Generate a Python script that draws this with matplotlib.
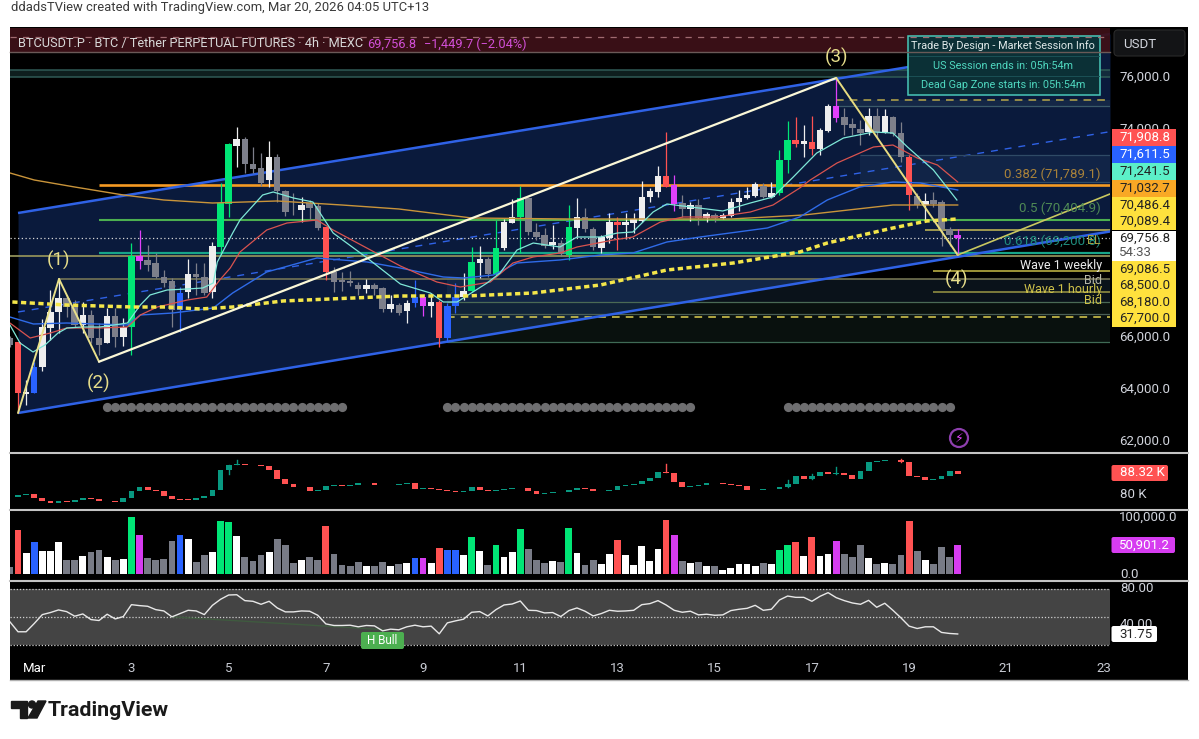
import matplotlib
matplotlib.use("Agg")
import matplotlib.pyplot as plt
import numpy as np
from matplotlib.lines import Line2D
from matplotlib.patches import Rectangle, Circle, Polygon, FancyBboxPatch
from matplotlib.transforms import Affine2D

plt.rcParams['font.family'] = ['Roboto', 'DejaVu Sans']

# ---------- data ----------
bar_tone = ("k" "rwbwwwkkwk" "kwkwgmkkkk" "bwkkwggwkk" "kwkkkwkkrk" "kkkwkkwkwb"
            "mwrbbwgwkg" "wwgkkkwkgw" "kkwwrwwwww" "rmkwkwkwww" "wwkwggrwrw"
            "wmkkkwkwkk" "rkwkkkm")

price_open = [65910,
 65760,63757,63796,64796,66298,66914,67453,67106,66414,66799,
 65913,65720,66760,65951,66336,69070,68916,68800,68261,68107,
 66991,67684,68377,68261,67684,69416,71072,73305,73575,72612,
 72458,71996,72881,71572,70725,70841,71110,70995,70187,68454,
 68146,68107,67954,67800,67954,67838,67030,67183,66953,67260,
 67491,67145,67300,65913,67145,67491,67722,68800,68955,68377,
 69378,70340,70572,71303,69994,69878,69493,69570,69108,70148,
 70572,70110,69378,69763,70379,70264,70340,70418,71342,71534,
 72150,71803,71110,70880,71033,70533,70648,70533,70610,71149,
 71303,71380,71765,71342,71496,72766,73536,73382,73459,73190,
 73882,74845,74421,74152,73960,73844,74460,73844,74421,73805,
 72881,71380,71033,71226,71149,70110,69878]
price_close = [65640,
 63795,63834,64796,66336,66914,67453,67106,66414,66799,65913,
 65644,66760,65951,66336,69070,68878,68723,68261,68030,66991,
 67646,68377,68261,67646,69455,71110,73382,73575,72612,72420,
 71880,72881,71572,70764,70725,71033,70918,70148,68454,68069,
 68069,68030,67800,67954,67800,67030,67222,66875,67260,67491,
 67145,67300,65913,67145,67491,67722,68840,68955,68377,69378,
 70379,70572,71303,69994,69800,69455,69609,69147,70187,70572,
 70110,69416,69801,70379,70264,70379,70495,71342,71572,72150,
 71726,71072,70880,71033,70533,70687,70533,70648,71149,71303,
 71419,71842,71342,71496,72766,73536,73382,73497,73190,73921,
 74845,74383,74113,73998,73805,74460,73844,74460,73767,72881,
 71419,71033,71188,71072,70110,69878,69757]
price_high = [65990,
 65760,64296,64989,66645,67761,68184,67569,67376,67299,66991,
 66490,67068,67068,66683,69570,70071,69493,69185,68531,68223,
 67876,68955,68800,68800,69609,71880,73420,74036,73652,73266,
 73035,73497,72997,71611,71496,71342,71226,71110,70187,68646,
 68454,68493,68069,68184,68030,67876,67569,67260,67376,68146,
 67569,67646,67376,67260,68030,68415,69416,69455,69032,70456,
 70495,71265,71765,71342,70340,70148,70264,69686,71033,71303,
 70918,70187,69878,70725,70572,70725,70725,71957,71688,72535,
 73844,72188,71419,71149,71264,70764,70725,70725,71303,71611,
 71726,71919,71880,71919,73151,74268,74420,74113,74460,73998,
 74922,75961,74768,74383,74306,74768,74768,74730,74460,74229,
 72958,71496,71496,71534,71226,70187,70110]
price_low = [65565,
 63025,63333,63796,64643,65836,66106,66722,66336,66106,65720,
 65259,65720,65567,65605,65259,68570,68493,68223,67876,66336,
 66144,67453,67569,67569,67453,69108,70572,72496,72266,72266,
 71765,71726,71149,70610,70648,70379,70456,70071,68146,67684,
 67723,67915,67569,67645,67569,66914,66914,66800,66490,67106,
 66760,66722,65567,65760,66875,67376,67684,68223,68261,68340,
 69301,70340,69185,69878,69686,69378,69340,69070,68916,69801,
 69994,69301,69185,69570,69301,69725,69955,70379,71149,71342,
 71726,70803,70572,70418,70263,70379,70379,70495,70572,70803,
 71265,71342,71303,71303,71419,72266,73266,72881,72958,72958,
 73844,74229,73728,73728,73343,73728,73613,73805,73690,72689,
 70841,70918,70456,70957,69455,69455,69108]

volume = [12100,
 76300,36400,55500,39900,39900,56600,24900,25400,31800,39300,
 42200,30600,24900,26600,98800,68200,28300,24900,26000,57200,
 67600,60700,21400,34100,39300,93100,91300,67000,29500,23700,
 33500,38700,61800,50300,19100,24300,29500,25400,83800,35300,
 16200,14500,20800,14500,14500,20800,14500,17900,19100,28300,
 27700,19700,46200,41600,42800,33500,64200,40500,16200,51400,
 29500,39300,78600,43900,24300,20200,23100,20800,80300,37600,
 16200,24900,17900,35300,59500,33500,16200,49100,23100,43900,
 94200,67600,22500,19100,21400,13300,13300,6900,11000,17900,
 17900,14500,20200,17900,42800,50300,55500,31800,64700,32400,
 34700,58400,35300,30100,51400,27700,16800,19100,17300,34100,
 93100,41000,24300,16800,46800,29500,50901]

oi_close = [79.37,
 80.25,80.63,78.99,77.73,77.22,77.98,77.60,78.36,78.99,78.86,
 77.85,77.73,77.60,78.99,81.52,83.16,82.27,81.77,79.75,78.61,
 78.48,78.36,78.99,79.87,82.02,89.72,91.36,91.74,91.49,91.36,
 91.24,89.60,86.31,84.17,83.28,83.03,81.64,82.15,83.66,83.79,
 83.66,83.91,84.80,84.55,84.04,83.91,83.79,84.17,84.67,82.53,
 82.65,82.53,82.27,81.64,81.39,81.52,83.16,82.15,81.52,82.27,
 82.53,82.90,82.78,81.64,80.38,80.88,81.26,81.39,82.15,82.78,
 82.53,81.64,81.89,82.02,83.41,83.79,84.29,85.56,86.44,88.71,
 88.59,85.30,83.16,83.41,83.79,84.67,84.55,84.42,84.04,83.66,
 82.02,82.15,82.53,82.40,83.28,84.17,87.45,86.19,87.45,88.96,
 88.21,88.59,87.95,86.31,89.09,92.63,93.13,93.26,93.38,92.63,
 87.20,87.07,85.68,86.19,87.20,89.22,88.32]
oi_wicks = [(26, 88.21, 91.36), (27, 91.74, 93.26), (80, 88.71, 91.74), (95, 83.28, 85.93),
            (98, 86.19, 88.21), (101, 88.21, 90.73), (109, 92.63, 93.89)]

rsi = [44.7,
 34.1,34.1,42.9,52.4,54.6,57.4,55.6,50.7,53.1,47.1,
 46.1,52.8,47.8,50.3,63.0,62.0,61.3,57.7,56.3,50.0,
 53.5,57.0,56.3,52.4,62.3,68.7,73.3,73.6,67.3,66.6,
 63.4,66.6,59.5,55.3,55.3,56.3,56.0,51.7,42.5,40.8,
 40.8,41.1,39.4,40.8,40.4,35.1,36.9,36.2,39.4,41.1,
 39.4,40.1,31.9,43.6,45.7,47.5,54.9,55.6,51.0,57.7,
 62.7,63.7,66.9,57.0,56.7,54.2,54.6,50.3,56.7,59.5,
 56.0,51.0,53.5,57.0,56.0,56.3,57.0,63.0,64.1,67.3,
 62.7,57.0,54.9,56.0,52.1,52.8,51.7,52.1,56.7,58.1,
 59.1,62.3,57.0,58.1,68.0,72.2,70.8,70.8,66.6,71.9,
 75.8,70.5,67.3,64.8,63.4,67.6,60.2,64.5,57.0,48.9,
 40.1,37.6,39.4,39.4,33.4,32.3,31.75]

ma_fast = [(-1,66414),(0.25,65720),(1.85,65374),(3.33,65644),(4.94,66106),(6.05,66298),(7.9,66336),
 (10.1,66336),(13.5,66490),(15.1,67183),(16.3,67569),(18.4,67761),(20.9,67800),(22.8,67838),(24.1,68030),
 (24.6,68839),(26.5,69955),(27.4,70456),(30.2,71419),(31.5,71534),(34,71303),(36.4,71149),(38.9,69955),
 (43.1,68993),(47.2,67992),(50.9,67646),(52.5,67299),(54.2,67299),(57.9,68030),(59.5,68415),(61.6,69301),
 (63.6,69570),(66.9,69416),(69,69801),(71.9,69801),(74,69955),(75.9,69994),(78.4,70764),(80.1,71072),
 (83,70957),(87,70803),(90.4,71110),(93.2,71342),(95.7,72111),(98.6,73035),(101.9,73613),(105.6,73844),
 (108,73805),(109.8,73266),(113,72381),(115.9,71226)]
ma_mid = [(-1,66490),(1.5,65913),(4,66106),(6,66298),(10.1,66298),(13.5,66336),(15.1,66799),(17.2,67106),
 (20.9,67376),(23.3,67491),(24.9,68146),(26.2,68608),(27.4,69224),(30.7,70071),(33.2,70340),(36.9,70456),
 (38.9,70071),(47.2,68685),(51.7,68069),(54.6,67876),(58.3,68069),(61.1,68800),(63.6,69032),(66.9,69185),
 (69,69416),(73.5,69686),(75.9,69801),(79.3,70379),(82.1,70572),(86.3,70572),(90.4,70764),(93.2,71033),
 (96.5,71688),(97.8,71996),(101.1,72650),(105.6,73266),(108,73343),(111,72843),(113.5,72573),(116,71919)]
ma_slow = [(-1,66722),(1.9,66452),(6,66490),(13.5,66414),(15.1,66799),(19.1,66875),(24.1,67068),(26.5,67646),
 (30.7,68454),(36.9,68993),(43.1,68839),(47.2,68608),(52.5,68261),(55,68223),(58.7,68339),(61.6,68800),
 (66.9,68916),(71.9,69108),(75.9,69185),(80.1,69609),(84.2,69801),(92.5,70148),(96.5,70572),(99.9,71226),
 (103.9,71726),(108,71919),(111.4,71880),(116,71611)]
ma_long = [(-1,72266),(2,71996),(7,71726),(13,71419),(18,71226),(24,71110),(32,71188),(40,71033),(47,70880),
 (56,70533),(68,70495),(88,70495),(97,70648),(108,71033),(116,71033)]
ma_dash = [(-0.7,67299),(6,67183),(14.2,67106),(18.4,67106),(22.5,67030),(26.5,67106),(32.7,67338),(47.2,67530),
 (55.4,67530),(63.6,67646),(71.9,67954),(80.1,68531),(88.3,68800),(96.5,69224),(99.9,69570),(108,70148),
 (112.2,70418),(116,70495)]

wave_points = [(0,63025),(5.06,68185),(10,65000),(101,75923),(116,69108),(134.8,71457)]
channel_lower = [(0,63025),(134.8,70013)]
channel_upper = [(0,70725),(134.8,77617)]
channel_mid = [(0,66914),(134.8,73856)]

levels = [  # price, first bar, colour, width, style
 (71789,10,'#f59a23',1.9,'-'), (70470,10,'#4caf50',1.5,'-'), (69200,10,'#17a589',1.6,'-'),
 (69082,-1,'#8f8f58',1.3,'-'), (68180,5.06,'#7d7d58',1.1,'-'), (68500,113,'#c8bc48',1.1,'-'),
 (67700,113,'#9a9645',1.1,'-'), (70082,112,'#c8bc55',1.1,'-'), (67300,53,'#4a6a55',0.9,'-'),
 (66835,53,'#4a5f55',0.9,'-'), (66720,53,'#e0d050',1.1,(0,(5,4))), (65770,53,'#3f6a55',0.9,'-'),
 (76212,-1,'#2f5a55',1.1,'-'), (75973,-1,'#2f5a55',1.1,'-'), (75076,101,'#b8a84a',1.1,(0,(5,4))),
 (74845,101,'#3b5a6a',0.9,'-'), (72958,104,'#2f4a66',0.9,'-'), (71919,104,'#2f4a66',0.9,'-'),
]
zones = [(67300,68180,53,'#2a4a6a',0.25),(65770,67300,53,'#1f3a30',0.3),(75973,76212,-1,'#1d3c3c',0.5),
         (74845,75076,101,'#1f3550',0.5),(71919,72958,104,'#2a4a70',0.22)]

session_dot_bars = [list(range(11,41)), list(range(53,84)), list(range(95,116))]
session_dot_price = 63256

day_labels = ["Mar","3","5","7","9","11","13","15","17","19","21","23"]
day_numbers = [1,3,5,7,9,11,13,15,17,19,21,23]
price_ticks = [76000,74000,66000,64000,62000]

stacked_labels = [("71,908.8",129,146,'#ff5252','#ffffff'),("71,611.5",146,163,'#2962ff','#ffffff'),
 ("71,241.5",163,180,'#5cf0c8','#222222'),("71,032.7",180,197,'#f9a825','#222222'),
 ("70,486.4",197,213,'#ffe13d','#222222'),("70,089.4",213,230,'#ffe13d','#222222'),
 ("69,086.5",261,277,'#ffe13d','#222222'),("68,500.0",277,294,'#ffe13d','#222222'),
 ("68,180.0",294,310,'#ffe13d','#222222'),("67,700.0",310,327,'#ffe13d','#222222')]

# ---------- layout ----------
W, H = 1199, 739
PX = Affine2D().scale(1, -1).translate(0, H)
fig = plt.figure(figsize=(W/100, H/100), dpi=100, facecolor='white')
def pane(x0, y0, x1, y1, **kw):
    a = fig.add_axes([x0/W, 1-y1/H, (x1-x0)/W, (y1-y0)/H], **kw)
    a.set_facecolor('none')
    for s in a.spines.values():
        s.set_visible(False)
    return a

bg = pane(10, 27, 1188, 680, zorder=-1)
bg.set_facecolor('black'); bg.set_xticks([]); bg.set_yticks([])

ax = pane(10, 27, 1110, 452.7)
ax2 = pane(10, 453.5, 1110, 509.5)
ax3 = pane(10, 510.5, 1110, 580.5)
ax4 = pane(10, 581.5, 1110, 651)
XLIM = (-0.99, 134.8)
for a in (ax, ax2, ax3, ax4):
    a.set_xlim(*XLIM)
    a.set_xticks([])
    a.set_yticks([])
ax.set_ylim(61497, 77886)
ax2.set_ylim(74.7, 95.9)
ax3.set_ylim(-11100, 110800)
ax4.set_ylim(13.6, 87.7)

bars = np.arange(-1, len(price_open)-1)
TONE = {'w':'#eeeeee','k':'#7d7f8a','g':'#00e676','r':'#ff5252','b':'#2962ff','m':'#e040fb'}
TONE_V = {'w':'#ffffff','k':'#787b86','g':'#00e676','r':'#ff5252','b':'#2962ff','m':'#d63cf0'}

# channel
cx = [p[0] for p in channel_lower]
ax.fill_between(cx, [p[1] for p in channel_lower], [p[1] for p in channel_upper], color='#0a1a3c', lw=0, zorder=1)
for ch in (channel_lower, channel_upper):
    ax.plot(*zip(*ch), color='#2f62e6', lw=1.8, zorder=4, solid_capstyle='butt')
ax.plot(*zip(*channel_mid), color='#2f62e6', lw=1, ls=(0,(5,5)), zorder=2)

for lo, hi, start, c, al in zones:
    ax.fill_between([start, XLIM[1]], lo, hi, color=c, alpha=al, lw=0, zorder=1.5)
for p, start, c, lw, ls in levels:
    ax.plot([start, XLIM[1]], [p, p], color=c, lw=lw, ls=ls, zorder=3, solid_capstyle='butt')
ax.axhline(price_close[-1], color='#d8d8d8', lw=0.9, ls=(0,(1,2)), zorder=3)

# candles
for i, o, c, h, l, t in zip(bars, price_open, price_close, price_high, price_low, bar_tone):
    col = TONE[t]
    ax.plot([i, i], [l, h], color=col, lw=0.9, zorder=5, solid_capstyle='butt')
    ax.bar(i, abs(c-o), bottom=min(o, c), width=0.8, color=col, lw=0, zorder=5.2)

# averages
ax.plot(*zip(*ma_long), color='#c9943a', lw=1.0, zorder=6)
ax.plot(*zip(*ma_slow), color='#2f6be8', lw=1.0, zorder=6)
ax.plot(*zip(*ma_mid), color='#d9534f', lw=0.9, zorder=6)
ax.plot(*zip(*ma_fast), color='#7fe8d8', lw=0.9, zorder=6)
ax.plot(*zip(*ma_dash), color='#f4e64a', lw=2.5, ls=(0,(1.5,1.0)), zorder=6)

# wave
wave_cols = ['#e8e08a','#e8e08a','#fbf8d8','#e8dc80','#c9c860']
wave_lw = [1.4, 1.4, 1.6, 1.4, 1.2]
for k in range(5):
    seg = wave_points[k:k+2]
    ax.plot(*zip(*seg), color=wave_cols[k], lw=wave_lw[k], zorder=7, solid_capstyle='round')

# session dots
for grp in session_dot_bars:
    ax.scatter(grp, [session_dot_price]*len(grp), s=44, color='#6e6e70', lw=0, zorder=4)

# price axis
ax.yaxis.tick_right()
ax.set_yticks(price_ticks)
ax.set_yticklabels([f"{v:,.1f}" for v in price_ticks], color='#d1d4dc', fontsize=9.5)
ax.tick_params(axis='y', length=0, pad=6.5)

# open interest candles
oi_open = [79.5] + oi_close[:-1]
for i, o, c in zip(bars, oi_open, oi_close):
    col = '#089981' if c >= o else '#ff5252'
    ax2.bar(i, max(abs(c-o), 0.22), bottom=min(o, c), width=0.72, color=col, lw=0)
for i, lo, hi in oi_wicks:
    col = '#089981' if oi_close[i+1] >= oi_open[i+1] else '#ff5252'
    ax2.plot([i, i], [lo, hi], color=col, lw=1)

# volume
ax3.bar(bars, volume, width=0.84, color=[TONE_V[t] for t in bar_tone], lw=0)

# rsi
ax4.fill_between(XLIM, 20, 80, color='#444444', lw=0)
for v in (80, 50, 20):
    ax4.axhline(v, color='#d0d0d0', lw=0.9, ls=(0,(1,1.5)))
ax4.plot([19, 45], [50, 36.5], color='#3f5a3f', lw=1)
ax4.plot(bars, rsi, color='#e8e8e8', lw=1.0)
ax4.set_xticks([2 + 6*(d-1) for d in day_numbers])
ax4.set_xticklabels(day_labels, fontsize=9.5, color='#c8cbd3')
ax4.get_xticklabels()[0].set_color('#ffffff')
ax4.tick_params(axis='x', length=0, pad=8)

# ---------- figure level decoration ----------
def frect(x0, y0, x1, y1, **kw):
    fig.add_artist(Rectangle((x0, y0), x1-x0, y1-y0, transform=PX, lw=kw.pop('lw', 0), **kw))
def ftext(x, y, s, **kw):
    kw.setdefault('va', 'center')
    fig.text(x, y, s, transform=PX, **kw)
def fbox(x0, y0, x1, y1, r=2, **kw):
    fig.add_artist(FancyBboxPatch((x0, y0), x1-x0, y1-y0, boxstyle=f"round,pad=0,rounding_size={r}",
                                  transform=PX, lw=kw.pop('lw', 0), **kw))

for y in (452.7, 510, 581):
    fig.add_artist(Line2D([10, 1188], [y, y], transform=PX, color='#c4c4c4', lw=1.5))
fig.add_artist(Line2D([10, 1188], [680, 680], transform=PX, color='#b0b0b0', lw=1))

# header band
frect(10, 28, 1110, 52, color='#3d1018', alpha=0.95, zorder=8)
fig.add_artist(Line2D([10, 1110], [37, 37], transform=PX, color='#a06a70', lw=0.9, ls=(0,(5,5)), zorder=8.5))
fig.add_artist(Line2D([10, 1110], [52, 52], transform=PX, color='#6a5a58', lw=1, zorder=8.5))
ftext(18, 44, "BTCUSDT.P · BTC / Tether PERPETUAL FUTURES · 4h · MEXC", color='#d8d8d8', fontsize=9.2, zorder=9)
ftext(367, 44, "69,756.8", color='#d24fd8', fontsize=9.2, zorder=9)
ftext(424, 44, "−1,449.7 (−2.04%)", color='#d24fd8', fontsize=9.2, zorder=9)
ftext(11, 8, "ddadsTView created with TradingView.com, Mar 20, 2026 04:05 UTC+13", color='#3a3a3a', fontsize=9.4)

# info box
frect(908, 36, 1100, 95, facecolor='#0b3036', edgecolor='#49c7b8', lw=1.1, zorder=8)
for y in (56, 76):
    fig.add_artist(Line2D([909, 1099], [y, y], transform=PX, color='#1b5055', lw=0.7, zorder=8.5))
ftext(1003, 46, "Trade By Design - Market Session Info", color='#dfe8e8', fontsize=7.8, ha='center', zorder=9)
ftext(1003, 66, "US Session ends in: 05h:54m", color='#4fd8c0', fontsize=7.8, ha='center', zorder=9)
ftext(1003, 85.5, "Dead Gap Zone starts in: 05h:54m", color='#4fd8c0', fontsize=7.8, ha='center', zorder=9)

# wave + fib text
for (x, y, s) in [(59, 260, "(1)"), (99, 383, "(2)"), (836, 57, "(3)"), (957, 279, "(4)")]:
    ftext(x, y, s, color='#e6dd8a', fontsize=13.5, ha='center', zorder=9)
ftext(1101, 174, "0.382 (71,789.1)", color='#a9823a', fontsize=9.5, ha='right', zorder=9)
ftext(1101, 208, "0.5 (70,404.9)", color='#4f8a55', fontsize=9.5, ha='right', zorder=9)
ftext(1101, 241, "0.618 (69,200.8)", color='#1f8c7d', fontsize=9.5, ha='right', zorder=9)
ftext(1101, 240, "EL", color='#a8a040', fontsize=9, ha='right', zorder=9)
ftext(1102, 266, "Wave 1 weekly", color='#ececec', fontsize=9, ha='right', zorder=9)
ftext(1102, 281, "Bid", color='#b8b8a8', fontsize=9, ha='right', zorder=9)
ftext(1102, 289, "Wave 1 hourly", color='#cfc24a', fontsize=9, ha='right', zorder=9)
ftext(1102, 301, "Bid", color='#cfc24a', fontsize=9, ha='right', zorder=9)

# lightning icon
fig.add_artist(Circle((959, 438), 9, transform=PX, facecolor='none', edgecolor='#8e3fae', lw=1.6, zorder=9))
ftext(959, 438, "⚡", color='#e040fb', fontsize=9, ha='center', zorder=9.5, family=['DejaVu Sans'])

# right labels
fbox(1114, 30, 1185, 56, r=4, facecolor='#131416', edgecolor='#2a2a2a', lw=0.8, zorder=9)
ftext(1123, 44, "USDT", color='#d1d4dc', fontsize=9.5, zorder=9.5)
for s, y0, y1, fc, tc in stacked_labels:
    frect(1111.5, y0, 1176, y1, color=fc, zorder=9)
    ftext(1119, (y0+y1)/2, s, color=tc, fontsize=9.5, zorder=9.5)
frect(1111.5, 231, 1176, 261, color='#ffffff', zorder=9)
ftext(1119, 238.5, "69,756.8", color='#222222', fontsize=9.5, zorder=9.5)
ftext(1119, 252.5, "54:33", color='#555555', fontsize=9.5, zorder=9.5)

fbox(1111.5, 465, 1168, 481, facecolor='#ff5252', zorder=9)
ftext(1120, 473, "88.32 K", color='#ffffff', fontsize=9.5, zorder=9.5)
ftext(1120, 495, "80 K", color='#d1d4dc', fontsize=9.5)
ftext(1119, 517, "100,000.0", color='#d1d4dc', fontsize=9.5)
fbox(1111.5, 537, 1175, 553, facecolor='#d63cf0', zorder=9)
ftext(1119, 545, "50,901.2", color='#ffffff', fontsize=9.5, zorder=9.5)
ftext(1120, 574, "0.0", color='#d1d4dc', fontsize=9.5)
ftext(1120, 589, "80.00", color='#d1d4dc', fontsize=9.5)
ftext(1120, 625, "40.00", color='#d1d4dc', fontsize=9.5)
fbox(1111.5, 626, 1157, 642, facecolor='#ffffff', zorder=9)
ftext(1119, 634, "31.75", color='#222222', fontsize=9.5, zorder=9.5)

# H Bull
fbox(361, 632, 404, 649, facecolor='#4caf50', zorder=9)
ftext(382.5, 641, "H Bull", color='#ffffff', fontsize=8.4, ha='center', zorder=9.5)

# logo
fig.add_artist(Polygon([(11,701),(27,701),(27,718),(20,718),(20,708),(11,708)], transform=PX, color='#1a1a1a'))
fig.add_artist(Circle((32,704.5), 3.5, transform=PX, color='#1a1a1a'))
fig.add_artist(Polygon([(38,701),(46,701),(37,718),(28,718)], transform=PX, color='#1a1a1a'))
ftext(48, 710, "TradingView", color='#1a1a1a', fontsize=15.4, fontweight='bold')

fig.savefig("out.png", dpi=100, facecolor='white')
